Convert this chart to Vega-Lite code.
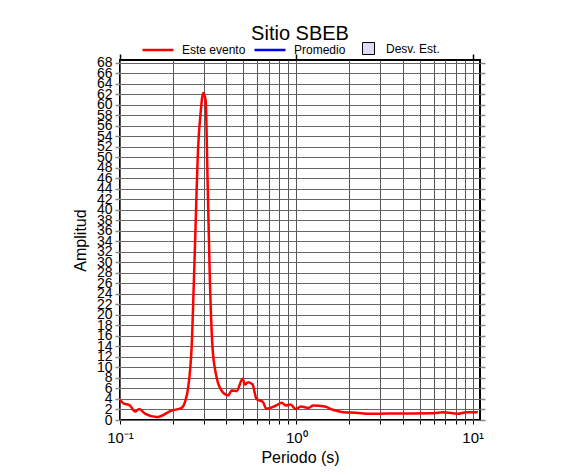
{
  "$schema": "https://vega.github.io/schema/vega-lite/v6.json",
  "width": 360,
  "height": 360,
  "autosize": {"type": "none"},
  "padding": {"left": 120, "top": 60, "right": 106, "bottom": 55},
  "background": "white",
  "title": {"text": "Sitio SBEB", "fontSize": 20, "fontWeight": "normal", "font": "Liberation Sans", "anchor": "middle", "offset": -11, "color": "black"},
  "config": {
    "font": "Liberation Sans",
    "view": {"stroke": "black", "strokeWidth": 2},
    "axis": {"labelColor": "black", "titleColor": "black", "titleFontWeight": "normal", "domain": false, "labelFont": "Liberation Sans", "titleFont": "Liberation Sans"}
  },
  "resolve": {"axis": {"x": "independent", "y": "independent"}},
  "layer": [
    {
      "data": {"values": [
        {"T": 0.1, "A": 3.85}, {"T": 0.1044, "A": 3.2}, {"T": 0.1139, "A": 2.76}, {"T": 0.1216, "A": 1.6},
        {"T": 0.1286, "A": 2.1}, {"T": 0.1386, "A": 1.2}, {"T": 0.1614, "A": 0.55}, {"T": 0.1963, "A": 1.8},
        {"T": 0.2236, "A": 2.3}, {"T": 0.2335, "A": 3.4}, {"T": 0.2437, "A": 6.25}, {"T": 0.2548, "A": 13.9},
        {"T": 0.266, "A": 32.9}, {"T": 0.2775, "A": 52}, {"T": 0.2863, "A": 58.3}, {"T": 0.2964, "A": 62.2},
        {"T": 0.3058, "A": 60.9}, {"T": 0.3138, "A": 45.6}, {"T": 0.3233, "A": 26.6}, {"T": 0.3346, "A": 13.9},
        {"T": 0.3497, "A": 8.8}, {"T": 0.3763, "A": 5.6}, {"T": 0.4108, "A": 4.67}, {"T": 0.4293, "A": 5.6},
        {"T": 0.4585, "A": 5.5}, {"T": 0.4959, "A": 7.85}, {"T": 0.5106, "A": 6.76}, {"T": 0.533, "A": 7.2},
        {"T": 0.5642, "A": 6.76}, {"T": 0.594, "A": 4.0}, {"T": 0.6466, "A": 3.4}, {"T": 0.6756, "A": 2.13},
        {"T": 0.7668, "A": 2.76}, {"T": 0.8273, "A": 3.27}, {"T": 0.8706, "A": 2.76}, {"T": 0.9281, "A": 2.95},
        {"T": 0.9893, "A": 2.1}, {"T": 1.067, "A": 2.57}, {"T": 1.17, "A": 2.3}, {"T": 1.246, "A": 2.76},
        {"T": 1.45, "A": 2.57}, {"T": 1.61, "A": 1.94}, {"T": 1.84, "A": 1.49}, {"T": 2.18, "A": 1.37},
        {"T": 2.59, "A": 1.18}, {"T": 3.8, "A": 1.24}, {"T": 5.96, "A": 1.3}, {"T": 6.79, "A": 1.49},
        {"T": 8.26, "A": 1.18}, {"T": 9.2, "A": 1.49}, {"T": 10.7, "A": 1.49}
      ]},
      "mark": {"type": "line", "strokeWidth": 2.5, "interpolate": "monotone", "clip": true},
      "encoding": {
        "x": {
          "field": "T", "type": "quantitative",
          "scale": {"type": "log", "domain": [0.1, 11], "nice": false},
          "axis": {
            "orient": "bottom", "title": "Periodo (s)", "titleFontSize": 16, "titlePadding": 4,
            "values": [0.1, 0.2, 0.3, 0.4, 0.5, 0.6, 0.7, 0.8, 0.9, 1, 2, 3, 4, 5, 6, 7, 8, 9, 10],
            "labelExpr": "abs(datum.value - 0.1) < 1e-6 ? '10⁻¹' : abs(datum.value - 1) < 1e-6 ? '10⁰' : abs(datum.value - 10) < 1e-6 ? '10¹' : ''",
            "labelFontSize": 15, "labelPadding": 6, "labelOverlap": false, "labelFlush": false, "labelBound": false,
            "tickSize": 4, "tickColor": "black", "tickWidth": 1,
            "grid": true, "gridColor": "#555555", "gridWidth": 1, "gridOpacity": 1
          }
        },
        "y": {
          "field": "A", "type": "quantitative",
          "scale": {"domain": [0, 68.5], "nice": false, "zero": false},
          "axis": {
            "orient": "left", "title": "Amplitud", "titleFontSize": 16, "titlePadding": 8,
            "values": [0, 2, 4, 6, 8, 10, 12, 14, 16, 18, 20, 22, 24, 26, 28, 30, 32, 34, 36, 38, 40, 42, 44, 46, 48, 50, 52, 54, 56, 58, 60, 62, 64, 66, 68],
            "labelFontSize": 14, "labelPadding": 3, "labelOverlap": false, "labelFlush": false, "labelBound": false,
            "tickSize": 5, "tickColor": "#888888", "tickWidth": 1.5,
            "grid": true, "gridColor": "#666666", "gridWidth": 1, "gridOpacity": 1
          }
        },
        "color": {
          "datum": "Este evento",
          "scale": {"domain": ["Este evento", "Promedio"], "range": ["#ff0000", "#0000ff"]},
          "legend": {
            "title": null, "orient": "none", "legendX": 21, "legendY": -27, "direction": "horizontal",
            "symbolType": "stroke", "symbolSize": 961, "symbolStrokeWidth": 2.5,
            "labelFontSize": 12, "labelFont": "Liberation Sans", "labelColor": "black", "labelOffset": 7, "columnPadding": 3
          }
        }
      }
    },
    {
      "data": {"values": []},
      "mark": {"type": "square", "opacity": 1, "stroke": "black", "strokeWidth": 1},
      "encoding": {
        "x": {
          "field": "T", "type": "quantitative",
          "axis": {"orient": "top", "title": null, "values": [0.1, 1, 10], "labels": false, "tickSize": 6, "tickColor": "black", "tickWidth": 1.5, "grid": false}
        },
        "y": {
          "field": "A", "type": "quantitative",
          "axis": {"orient": "right", "title": null, "values": [0, 2, 4, 6, 8, 10, 12, 14, 16, 18, 20, 22, 24, 26, 28, 30, 32, 34, 36, 38, 40, 42, 44, 46, 48, 50, 52, 54, 56, 58, 60, 62, 64, 66, 68], "labels": false, "tickSize": 5, "tickColor": "#888888", "tickWidth": 1.5, "grid": false}
        },
        "fill": {
          "datum": "Desv. Est.",
          "scale": {"domain": ["Desv. Est."], "range": ["#dcdcf8"]},
          "legend": {
            "title": null, "orient": "none", "legendX": 242, "legendY": -18, "direction": "horizontal",
            "symbolType": "square", "symbolSize": 144, "symbolStrokeColor": "black", "symbolStrokeWidth": 1, "symbolOpacity": 1,
            "labelFontSize": 12, "labelFont": "Liberation Sans", "labelColor": "black", "labelOffset": 11
          }
        }
      }
    }
  ]
}
